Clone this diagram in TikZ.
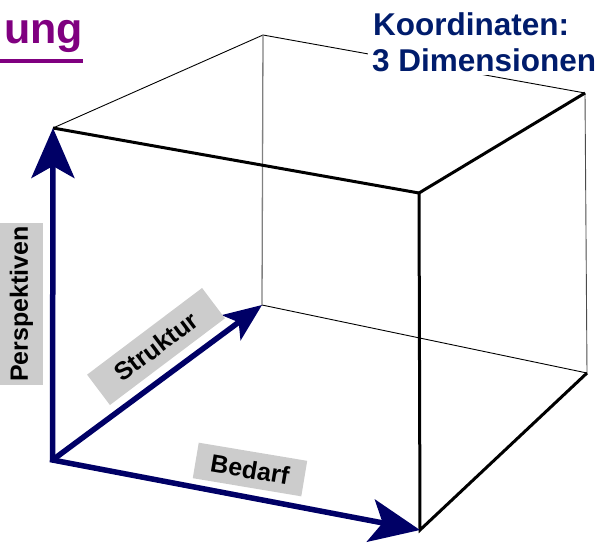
\documentclass[tikz,border=0pt]{standalone}
\usepackage{fontspec}
\setmainfont{Liberation Sans}
\usetikzlibrary{arrows.meta}
\definecolor{axisblue}{RGB}{0,0,102}
\definecolor{titleblue}{RGB}{0,28,108}
\definecolor{headpurple}{RGB}{128,0,128}
\definecolor{labelgrey}{RGB}{204,204,204}
\tikzset{
  bighead/.tip={Stealth[length=50pt, width=43pt, inset=12pt]},
  smallhead/.tip={Stealth[length=38pt, width=31pt, inset=9pt]}
}
\begin{document}
\begin{tikzpicture}[x=1pt,y=-1pt,
  frontedge/.style={line width=3pt, line join=miter},
  backedge/.style={line width=0.9pt},
  hiddenedge/.style={line width=1.3pt, draw=gray},
  axis/.style={draw=axisblue, line width=5.5pt, line join=miter},
  axislabel/.style={fill=labelgrey, font=\bfseries\fontsize{25}{27}\selectfont, inner sep=0pt},
  titletext/.style={text=titleblue, fill=white, font=\bfseries\fontsize{31.5}{36}\selectfont, inner sep=4pt}
]
\useasboundingbox (0,0) rectangle (600,542);

% cube corners
\coordinate (O)   at (52.5,460);
\coordinate (FTL) at (53,128);
\coordinate (FTR) at (419,193);
\coordinate (FBR) at (420,530);
\coordinate (BTL) at (263,35);
\coordinate (BTR) at (585,93);
\coordinate (BBR) at (587,373);
\coordinate (BBL) at (262,305);

% rear edges
\draw[backedge] (FTL) -- (BTL) -- (BTR);
\draw[backedge, draw=black!70] (BTR) -- (BBR);
\draw[backedge] (BBR) -- (BBL);
\draw[hiddenedge] (BTL) -- (BBL);

% heading, partly covering the rear top edge
\node[titletext, anchor=base west] (koord) at (369,35) {Koordinaten:};
\node[titletext, anchor=base west] (dim) at (368,71) {3 Dimensionen};

% front edges
\draw[frontedge] (FTL) -- (FTR) -- (FBR) -- (BBR);
\draw[frontedge] (FTR) -- (BTR);

% axes
\draw[axis, {bighead}-{bighead}] (FTL) -- (O) -- (FBR);
\draw[axis, -{smallhead}] (O) -- (BBL);

% axis labels
\node[axislabel, rotate=90, minimum width=162pt, minimum height=43pt] (persp) at (21.5,304) {Perspektiven};
\node[axislabel, rotate=37, minimum width=144pt, minimum height=38pt] (strukt) at (156,346.5) {Struktur};
\node[axislabel, rotate=-9.5, minimum width=110pt, minimum height=36pt] (bedarf) at (250,469.5) {Bedarf};

% cut-off page heading
\node[text=headpurple, font=\bfseries\fontsize{43}{47}\selectfont, anchor=base east, inner sep=0pt] (head) at (83,43) {ung};
\draw[headpurple, line width=3.5pt] (0,61) -- (head.east |- 0,61);
\end{tikzpicture}
\end{document}
